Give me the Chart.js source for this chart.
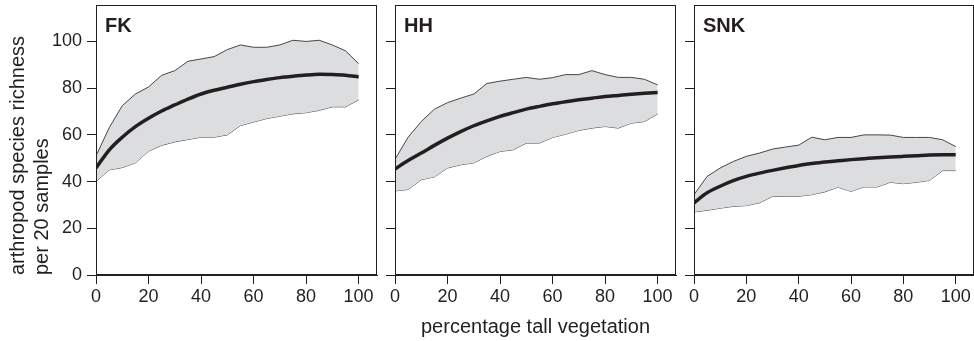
<!DOCTYPE html>
<html>
<head>
<meta charset="utf-8">
<script src="https://cdn.jsdelivr.net/npm/chart.js@4.4.1/dist/chart.umd.min.js"></script>
<style>
  html, body { margin: 0; padding: 0; background: #fff; }
  #wrap { position: relative; width: 974px; height: 341px; overflow: hidden; background: #fff; }
  canvas { position: absolute; top: 0; }
  .plab { position: absolute; font: bold 20px "Liberation Sans", Arial, sans-serif; line-height: 20px; color: #231f20; }
</style>
</head>
<body>
<div id="wrap">
  <canvas id="c1" width="378" height="341" style="left:0px"></canvas>
  <canvas id="c2" width="300" height="341" style="left:377px"></canvas>
  <canvas id="c3" width="298" height="341" style="left:676px"></canvas>
  <div class="plab" style="left:105px;top:15px">FK</div>
  <div class="plab" style="left:404px;top:15px">HH</div>
  <div class="plab" style="left:703px;top:15px">SNK</div>
</div>
<script>
// ---- data ----
const xs = [0,5,10,15,20,25,30,35,40,45,50,55,60,65,70,75,80,85,90,95,100];
const yTicks = [0,20,40,60,80,100];
const xTicks = [0,20,40,60,80,100];
const panels = ['FK','HH','SNK'];

const fkUpper = [51,63,72.5,77.5,80.5,85.5,87.5,91.5,92.5,93.5,96.5,98.5,97.5,97.5,98.5,100.5,100,100.5,98.5,96,90.5];
const fkLower = [40,45,46,48,53,55.5,57,58,59,59,60,64,65.5,67,68,69,69.5,70.5,72,72,75];
const fkMean  = [45.8,53.5,59,63.5,67.1,70.2,72.8,75.3,77.5,79.1,80.4,81.7,82.8,83.7,84.5,85.1,85.6,85.9,85.8,85.5,84.8];

const hhUpper = [49.5,59,65.7,71,73.8,75.7,77.5,82,83,83.8,84.6,83.8,84.5,85.8,85.8,87.5,85.8,84.6,84.6,83.8,81.4];
const hhLower = [36,36.6,40.8,42,45.8,47.2,48,50.8,52.9,53.6,56.5,56.5,58.9,60.3,61.9,62.9,63.6,62.9,65,65.7,69];
const hhMean  = [45.4,49,52.2,55.5,58.6,61.4,63.9,66,67.9,69.5,71,72.2,73.3,74.2,75,75.7,76.4,76.9,77.4,77.8,78.1];

const snkUpper = [34.4,42.2,45.8,48.6,50.8,52.2,53.9,54.8,55.6,59,57.9,58.9,58.9,60,60,59.9,58.9,58.9,58.9,57.9,55];
const snkLower = [27,27.7,28.6,29.4,29.7,30.9,33.7,33.7,33.7,34.4,35.6,37.6,35.8,37.7,37.7,39.7,39.1,39.7,40.5,44.7,44.7];
const snkMean  = [30.9,35.2,38,40.4,42.2,43.6,44.8,45.9,46.9,47.7,48.4,48.9,49.4,49.8,50.2,50.5,50.8,51.1,51.4,51.5,51.5];

const yTitle = ['arthropod species richness', 'per 20 samples'];
const xTitle = 'percentage tall vegetation';

// ---- drawing ----
const FONT = '"Liberation Sans", Arial, sans-serif';
const INK = '#231f20';
Chart.defaults.font.family = FONT;
Chart.defaults.color = INK;

const pts = (v) => xs.map((x, i) => ({x: x, y: v[i]}));

const boxPlugin = {
  id: 'box',
  afterDraw(chart) {
    const a = chart.chartArea, ctx = chart.ctx;
    ctx.save();
    ctx.strokeStyle = INK;
    ctx.lineWidth = 1;
    const l = Math.round(a.left) + 0.5, r = Math.round(a.right) - 0.5;
    const t = Math.round(a.top) + 0.5, b = Math.round(a.bottom) - 0.5;
    ctx.strokeRect(l, t, r - l, b - t);
    ctx.restore();
  }
};

function makePanel(id, upper, lower, mean, opts) {
  new Chart(document.getElementById(id), {
    type: 'line',
    data: {
      datasets: [
        { data: pts(mean), borderColor: INK, borderWidth: 3.5, pointRadius: 0, fill: false,
          cubicInterpolationMode: 'monotone' },
        { data: pts(upper), borderColor: '#333', borderWidth: 0.9, pointRadius: 0, tension: 0,
          fill: '+1', backgroundColor: '#dcdddf' },
        { data: pts(lower), borderColor: '#333', borderWidth: 0.9, pointRadius: 0, tension: 0, fill: false }
      ]
    },
    options: {
      responsive: false,
      animation: false,
      events: [],
      layout: { padding: { top: 5, right: opts.padRight, left: 0, bottom: 0 } },
      plugins: { legend: { display: false }, tooltip: { enabled: false } },
      scales: {
        x: {
          type: 'linear', min: 0, max: 107,
          afterBuildTicks: (s) => { s.ticks = xTicks.map(v => ({value: v})); },
          ticks: { stepSize: 20, includeBounds: false, font: { size: 18 }, color: INK, padding: 2, maxRotation: 0 },
          grid: { drawOnChartArea: false, drawTicks: true, tickLength: 9, color: INK, lineWidth: 1 },
          border: { display: true, color: INK, width: 1 },
          title: opts.xTitle ? { display: true, text: xTitle, font: { size: 20 }, color: INK, padding: { top: 0, bottom: 2 } } : { display: false },
          afterFit: (s) => { s.height = 66; s.paddingLeft = 0; s.paddingRight = 0; }
        },
        y: {
          type: 'linear', min: 0, max: 115.6,
          afterBuildTicks: (s) => { s.ticks = yTicks.map(v => ({value: v})); },
          ticks: { display: opts.yLabels, stepSize: 20, includeBounds: false, font: { size: 18 }, color: INK, padding: 5 },
          grid: { drawOnChartArea: false, drawTicks: true, tickLength: 9, color: INK, lineWidth: 1 },
          border: { display: true, color: INK, width: 1 },
          title: opts.yTitle ? { display: true, align: 'start', text: yTitle, font: { size: 20, lineHeight: 1.18 }, color: INK, padding: { top: 7, bottom: 0 } } : { display: false },
          afterFit: (s) => { s.width = opts.yWidth; s.paddingTop = 0; s.paddingBottom = 0; }
        }
      }
    },
    plugins: [boxPlugin]
  });
}

makePanel('c1', fkUpper, fkLower, fkMean, { padRight: 1, yWidth: 96, yLabels: true, yTitle: true, xTitle: false });
makePanel('c2', hhUpper, hhLower, hhMean, { padRight: 1, yWidth: 18, yLabels: false, yTitle: false, xTitle: true });
makePanel('c3', snkUpper, snkLower, snkMean, { padRight: 0, yWidth: 18, yLabels: false, yTitle: false, xTitle: false });
</script>
</body>
</html>
